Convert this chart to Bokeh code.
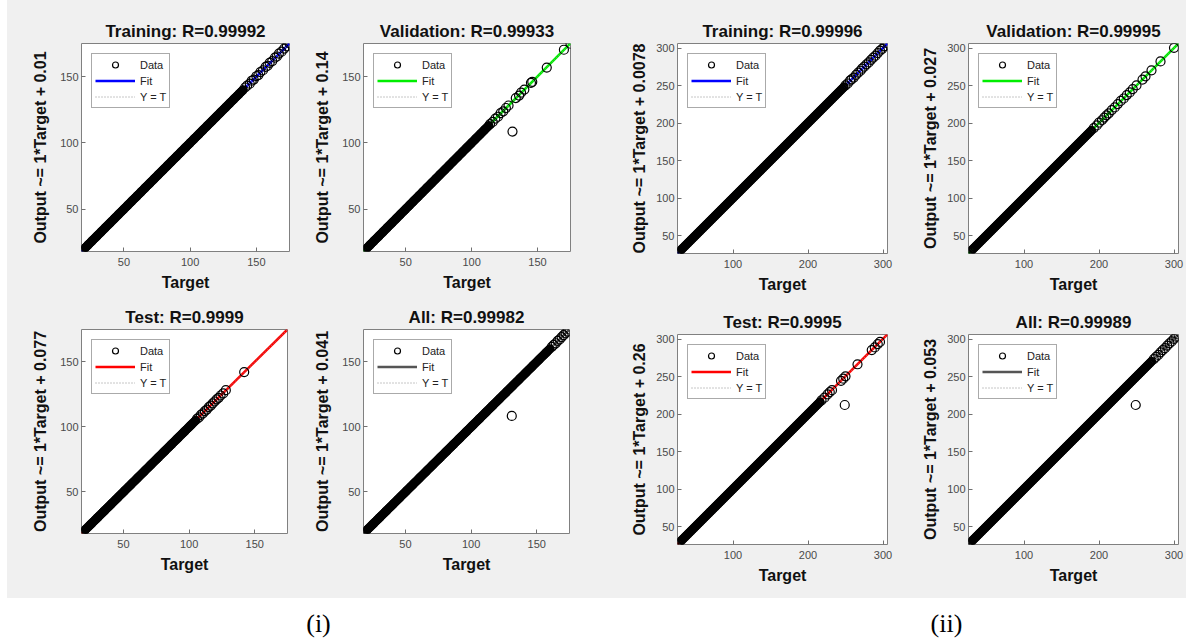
from bokeh.plotting import figure
from bokeh.models import Range1d, FixedTicker, Legend, LegendItem, Label, Spacer, ColumnDataSource
from bokeh.layouts import row, column
from bokeh.embed import file_html
from bokeh.resources import INLINE

# ---------------- data ----------------
# dense run of cases whose output equals the target (the solid band), group (i)
band_i = [18, 19, 20, 21, 22, 23, 24, 25, 26, 27, 28, 29, 30, 31, 32, 33, 34, 35, 36, 37,
          38, 39, 40, 41, 42, 43, 44, 45, 46, 47, 48, 49, 50, 51, 52, 53, 54, 55, 56, 57,
          58, 59, 60, 61, 62, 63, 64, 65, 66, 67, 68, 69, 70, 71, 72, 73, 74, 75, 76, 77,
          78, 79, 80, 81, 82, 83, 84, 85, 86, 87, 88, 89, 90, 91, 92, 93, 94, 95, 96, 97,
          98, 99, 100, 101, 102, 103, 104, 105, 106, 107, 108, 109, 110, 111, 112, 113, 114,
          115, 116, 117, 118, 119, 120, 121, 122, 123, 124, 125, 126, 127, 128, 129, 130, 131,
          132, 133, 134, 135, 136, 137, 138, 139, 140, 141, 142, 143, 144, 145, 146, 147, 148,
          149, 150, 151, 152, 153, 154, 155, 156, 157, 158, 159, 160]
# group (ii)
band_ii = [26, 28, 30, 32, 34, 36, 38, 40, 42, 44, 46, 48, 50, 52, 54, 56, 58, 60, 62, 64,
           66, 68, 70, 72, 74, 76, 78, 80, 82, 84, 86, 88, 90, 92, 94, 96, 98, 100, 102, 104,
           106, 108, 110, 112, 114, 116, 118, 120, 122, 124, 126, 128, 130, 132, 134, 136, 138,
           140, 142, 144, 146, 148, 150, 152, 154, 156, 158, 160, 162, 164, 166, 168, 170, 172,
           174, 176, 178, 180, 182, 184, 186, 188, 190, 192, 194, 196, 198, 200, 202, 204, 206,
           208, 210, 212, 214, 216, 218, 220, 222, 224, 226, 228, 230, 232, 234, 236, 238, 240,
           242, 244, 246, 248, 250, 252, 254, 256, 258, 260, 262, 264, 266, 268, 270]

# dense-band extent of each subset: (low, high)
dense_i = {"Training": (18, 140), "Validation": (20, 113), "Test": (18, 105), "All": (18, 160)}
dense_ii = {"Training": (26, 248), "Validation": (30, 190), "Test": (28, 216), "All": (26, 270)}

# individually visible cases (target, output)
tr_i_t = [141.5, 143, 145, 146.5, 148, 150, 151.5, 153, 155, 157, 158.5, 160, 162, 164, 165.5, 167, 169, 171, 173, 175]
tr_i_y = [141.8, 143.2, 144.7, 146.9, 147.8, 150.3, 151.2, 153.4, 154.8, 157.3, 158.2, 160.4, 161.7, 164.3, 165.2, 167.4, 168.8, 171.2, 172.9, 175]
va_i_t = [114, 116, 118, 120, 122, 124, 126, 128, 131, 133.5, 136, 137.5, 140, 145, 146, 157, 170, 175]
va_i_y = [114.2, 115.8, 118.3, 119.7, 122.4, 123.8, 126.3, 128.2, 108.5, 133.8, 135.7, 137.9, 140.2, 145.3, 146.1, 156.8, 170.3, 174.8]
te_i_t = [106, 107.5, 109, 110.5, 112, 113.5, 115, 116.5, 118, 119.5, 121, 122.5, 124, 126, 128, 142]
te_i_y = [106.2, 107.3, 109.3, 110.4, 112.2, 113.4, 115.3, 116.4, 118.2, 119.6, 121.3, 122.4, 124.2, 125.8, 128.3, 142.2]
al_i_t = [131, 161.5, 163, 164.5, 166, 167.5, 169, 170.5, 172, 173.5, 175]
al_i_y = [108.5, 161.7, 163.2, 164.4, 166.3, 167.4, 169.2, 170.6, 172.1, 173.4, 175]

tr_ii_t = [250, 253, 256, 258, 261, 264, 267, 270, 272, 275, 278, 281, 284, 287, 290, 293, 296, 299, 302, 306]
tr_ii_y = [250.3, 252.7, 256.4, 258.2, 260.6, 264.3, 267.2, 269.7, 272.4, 275.1, 278.3, 280.8, 284.2, 287.3, 289.8, 293.2, 296.4, 298.9, 302.2, 306]
va_ii_t = [193, 197, 200, 204, 207, 210, 213, 217, 221, 225, 229, 233, 237, 241, 245, 250, 258, 262, 270, 282, 300]
va_ii_y = [193.3, 196.8, 200.4, 203.7, 207.2, 210.3, 212.8, 217.3, 220.8, 225.2, 229.4, 232.7, 237.3, 240.8, 245.2, 250.3, 257.8, 262.2, 270.3, 282.1, 300.2]
te_ii_t = [218, 222, 226, 229, 232, 244, 247, 249, 250, 266, 285, 289, 293, 296]
te_ii_y = [218.3, 221.8, 226.2, 229.3, 231.8, 244.3, 247.1, 212, 250.2, 266.3, 285.2, 288.8, 293.3, 296.1]
al_ii_t = [249, 273, 276, 279, 282, 285, 288, 291, 294, 297, 300, 303, 306]
al_ii_y = [212, 273.2, 276.3, 278.8, 282.2, 285.3, 287.8, 291.2, 294.3, 296.8, 300.2, 303.1, 306]

subsets = ["Training", "Validation", "Test", "All"]
r_i = ["0.99992", "0.99933", "0.9999", "0.99982"]
r_ii = ["0.99996", "0.99995", "0.9995", "0.99989"]
slope_i = [1, 1, 1, 1]
slope_ii = [1, 1, 1, 1]
icpt_i = ["0.01", "0.14", "0.077", "0.041"]
icpt_ii = ["0.0078", "0.027", "0.26", "0.053"]
lims_i = [18, 175]
lims_ii = [26, 306]
ticks_i_x = [50, 100, 150]
ticks_i_y = [50, 100, 150]
ticks_ii_x = [100, 200, 300]
ticks_ii_y = [50, 100, 150, 200, 250, 300]
fit_colors = {"Training": "#0000ff", "Validation": "#00ee00", "Test": "#ff0000", "All": "#555555"}

extra_i = {"Training": (tr_i_t, tr_i_y), "Validation": (va_i_t, va_i_y), "Test": (te_i_t, te_i_y), "All": (al_i_t, al_i_y)}
extra_ii = {"Training": (tr_ii_t, tr_ii_y), "Validation": (va_ii_t, va_ii_y), "Test": (te_ii_t, te_ii_y), "All": (al_ii_t, al_ii_y)}

# ---------------- styling ----------------
BG = "#f0f0f0"
FONT = "Liberation Sans"


def panel(name, rval, slope, icpt, band, dense, extra, lims, tx, ty, fw, fh, bl, br, bt, bb, ylab_sd):
    lo, hi = dense
    band_vals = [v for v in band if lo <= v <= hi]
    dense_src = ColumnDataSource(dict(t=band_vals, y=band_vals))
    src = ColumnDataSource(dict(t=list(extra[0]), y=list(extra[1])))
    b = float(icpt)
    fit_src = ColumnDataSource(dict(x=lims, y=[slope * v + b for v in lims]))
    yt_src = ColumnDataSource(dict(x=lims, y=lims))

    p = figure(frame_width=fw, frame_height=fh,
               min_border_left=bl, min_border_right=br, min_border_top=bt, min_border_bottom=bb,
               x_range=Range1d(lims[0], lims[1]), y_range=Range1d(lims[0], lims[1]),
               output_backend="svg", toolbar_location=None,
               background_fill_color="white", border_fill_color=BG)
    p.title.text = f"{name}: R={rval}"
    p.title.align = "center"
    p.title.text_font = FONT
    p.title.text_font_size = "17px"
    p.title.text_font_style = "bold"
    p.title.text_color = "#111111"
    p.title.standoff = 6

    p.grid.visible = False
    p.outline_line_color = "#808080"
    p.outline_line_width = 1

    p.xaxis.axis_label = "Target"
    p.yaxis.axis_label = f"Output ~= {slope}*Target + {icpt}"
    p.xaxis.ticker = FixedTicker(ticks=tx)
    p.yaxis.ticker = FixedTicker(ticks=ty)
    for ax in (p.xaxis[0], p.yaxis[0]):
        ax.axis_line_color = None
        ax.major_tick_in = 4
        ax.major_tick_out = 0
        ax.major_tick_line_color = "#707070"
        ax.minor_tick_line_color = None
        ax.major_label_text_font = FONT
        ax.major_label_text_font_size = "11px"
        ax.major_label_text_color = "#4a4a4a"
        ax.axis_label_text_font = FONT
        ax.axis_label_text_font_size = "16px"
        ax.axis_label_text_font_style = "bold"
        ax.axis_label_text_color = "#111111"
    p.xaxis.major_label_standoff = 6
    p.xaxis.axis_label_standoff = 5
    p.yaxis.major_label_standoff = 3
    p.yaxis.axis_label_standoff = ylab_sd

    fit = p.line("x", "y", source=fit_src, line_color=fit_colors[name], line_width=2.5)
    ytl = p.line("x", "y", source=yt_src, line_color="#8c8c8c", line_width=1, line_dash="1 2")
    # the dense run of overlapping circles renders as a solid band
    p.scatter("t", "y", source=dense_src, marker="circle", size=7, line_color="black",
              fill_color=None, line_width=2.3)
    sc = p.scatter("t", "y", source=src, marker="circle", size=9, line_color="black",
                   fill_color=None, line_width=1.2)

    leg = Legend(items=[LegendItem(label="Data", renderers=[sc]),
                        LegendItem(label="Fit", renderers=[fit]),
                        LegendItem(label="Y = T", renderers=[ytl])],
                 location="top_left", margin=10,
                 glyph_width=40, glyph_height=15, label_height=15, spacing=1, padding=3,
                 label_standoff=5, label_text_font=FONT, label_text_font_size="11px",
                 label_text_color="#222222", border_line_color="#555555", border_line_width=1,
                 background_fill_color="white", background_fill_alpha=1)
    p.add_layout(leg)
    return p


figs = {}
geo_i = {
    "Training":   (208, 208, 72, 6, 43, 43),
    "Validation": (207, 208, 70, 30, 43, 43),
    "Test":       (206, 204, 74, 6, 35, 64),
    "All":        (206, 204, 69, 32, 35, 64),
}
geo_ii = {
    "Training":   (210, 210, 77, 6, 43, 41),
    "Validation": (210, 210, 74, 9, 43, 41),
    "Test":       (210, 210, 77, 6, 39, 54),
    "All":        (210, 210, 75, 8, 39, 54),
}
for k, name in enumerate(subsets):
    g = geo_i[name]
    figs[("i", name)] = panel(name, r_i[k], slope_i[k], icpt_i[k], band_i, dense_i[name], extra_i[name],
                              lims_i, ticks_i_x, ticks_i_y, *g, 8)
    g = geo_ii[name]
    figs[("ii", name)] = panel(name, r_ii[k], slope_ii[k], icpt_ii[k], band_ii, dense_ii[name], extra_ii[name],
                               lims_ii, ticks_ii_x, ticks_ii_y, *g, 5)

cap = figure(width=1186, height=45, x_range=Range1d(0, 1186), y_range=Range1d(0, 45),
             x_axis_type=None, y_axis_type=None, output_backend="svg", toolbar_location=None,
             min_border=0, outline_line_color=None, background_fill_color="white",
             border_fill_color="white")
cap.grid.visible = False
cap.add_layout(Label(x=318, y=20, text="(i)", text_align="center", text_baseline="middle",
                     text_font="Liberation Serif", text_font_size="26px", text_color="black"))
cap.add_layout(Label(x=946, y=20, text="(ii)", text_align="center", text_baseline="middle",
                     text_font="Liberation Serif", text_font_size="26px", text_color="black"))

gray = {"background-color": BG}
cols = [column(figs[("i", "Training")], figs[("i", "Test")], styles=gray),
        column(figs[("i", "Validation")], figs[("i", "All")], styles=gray),
        column(figs[("ii", "Training")], figs[("ii", "Test")], styles=gray),
        column(figs[("ii", "Validation")], figs[("ii", "All")], styles=gray)]
panels = row(*cols, styles=gray)
top = row(Spacer(width=7, height=597), panels)
layout = column(top, cap)

open("out.html", "w").write(file_html(layout, INLINE))
